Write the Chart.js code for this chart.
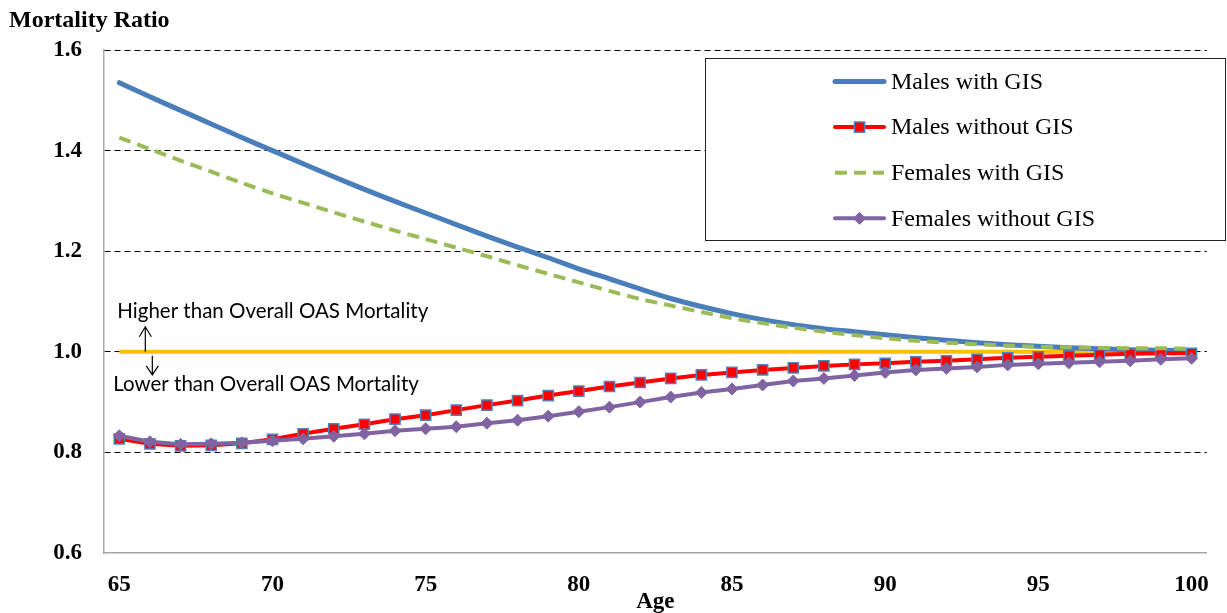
<!DOCTYPE html>
<html>
<head>
<meta charset="utf-8">
<title>Mortality Ratio</title>
<script src="https://cdn.jsdelivr.net/npm/chart.js"></script>
<style>
  body { margin: 0; background: #fff; }
  #wrap { width: 1227px; height: 613px; }
</style>
</head>
<body>
<div id="wrap"><canvas id="chart" width="1227" height="613"></canvas></div>
<script>
// ages on the x axis
const ages = [65, 66, 67, 68, 69, 70, 71, 72, 73, 74, 75, 76, 77, 78, 79, 80, 81, 82,
              83, 84, 85, 86, 87, 88, 89, 90, 91, 92, 93, 94, 95, 96, 97, 98, 99, 100];
const ageTickLabels = [65, 70, 75, 80, 85, 90, 95, 100];

// mortality ratios
const malesWithGIS = [1.535, 1.507, 1.480, 1.453, 1.426, 1.400, 1.374, 1.348, 1.323, 1.299,
                      1.276, 1.253, 1.230, 1.208, 1.187, 1.165, 1.145, 1.125, 1.106, 1.090,
                      1.076, 1.064, 1.054, 1.046, 1.040, 1.034, 1.028, 1.023, 1.018, 1.014,
                      1.011, 1.008, 1.006, 1.004, 1.003, 1.002];
const malesWithoutGIS = [0.827, 0.817, 0.813, 0.814, 0.818, 0.826, 0.837, 0.847, 0.856, 0.866,
                         0.874, 0.884, 0.894, 0.903, 0.913, 0.922, 0.931, 0.939, 0.947, 0.954,
                         0.959, 0.964, 0.968, 0.972, 0.975, 0.977, 0.980, 0.982, 0.985, 0.988,
                         0.990, 0.992, 0.994, 0.996, 0.997, 0.997];
const femalesWithGIS = [1.426, 1.403, 1.380, 1.358, 1.336, 1.315, 1.296, 1.277, 1.259, 1.241,
                        1.224, 1.207, 1.190, 1.172, 1.155, 1.138, 1.121, 1.105, 1.092, 1.079,
                        1.067, 1.057, 1.048, 1.040, 1.033, 1.027, 1.022, 1.018, 1.015, 1.012,
                        1.010, 1.009, 1.008, 1.007, 1.007, 1.006];
const femalesWithoutGIS = [0.833, 0.821, 0.816, 0.817, 0.819, 0.823, 0.827, 0.832, 0.837, 0.843,
                           0.847, 0.851, 0.858, 0.864, 0.872, 0.881, 0.890, 0.900, 0.910, 0.919,
                           0.926, 0.934, 0.942, 0.947, 0.953, 0.959, 0.964, 0.967, 0.970, 0.974,
                           0.976, 0.978, 0.980, 0.982, 0.985, 0.987];
const overallOAS = [1, 1, 1, 1, 1, 1, 1, 1, 1, 1, 1, 1, 1, 1, 1, 1, 1, 1,
                    1, 1, 1, 1, 1, 1, 1, 1, 1, 1, 1, 1, 1, 1, 1, 1, 1, 1];

const yMin = 0.6, yMax = 1.6, yStep = 0.2;

const serif = '"Liberation Serif", "Times New Roman", serif';
const tickFont = { family: serif, size: 23, weight: 'bold' };

// title top-left, arrows and notes around the 1.0 line
const notesPlugin = {
    id: 'notes',
    afterDraw(chart) {
        const ctx = chart.ctx;
        const x0 = chart.scales.x.getPixelForValue(0);
        const y1 = chart.scales.y.getPixelForValue(1.0);
        ctx.save();
        ctx.fillStyle = '#000';
        ctx.font = 'bold 24px ' + serif;
        ctx.textBaseline = 'alphabetic';
        ctx.fillText('Mortality Ratio', 9, 27);

        ctx.font = '20.5px Lato, "Open Sans", sans-serif';
        ctx.fillText('Higher than Overall OAS Mortality', x0 - 2, y1 - 34);
        ctx.fillText('Lower than Overall OAS Mortality', x0 - 6, y1 + 39);

        ctx.strokeStyle = '#000';
        ctx.lineWidth = 1.2;
        // up arrow
        let ax = x0 + 26;
        ctx.beginPath();
        ctx.moveTo(ax, y1);
        ctx.lineTo(ax, y1 - 25);
        ctx.moveTo(ax - 6, y1 - 15);
        ctx.lineTo(ax, y1 - 25);
        ctx.lineTo(ax + 6, y1 - 15);
        ctx.stroke();
        // down arrow
        ax = x0 + 33;
        ctx.beginPath();
        ctx.moveTo(ax, y1 + 4);
        ctx.lineTo(ax, y1 + 23);
        ctx.moveTo(ax - 6, y1 + 14);
        ctx.lineTo(ax, y1 + 23);
        ctx.lineTo(ax + 6, y1 + 14);
        ctx.stroke();
        ctx.restore();
    }
};

// boxed legend in the upper right, only the four named series
const boxLegendPlugin = {
    id: 'boxLegend',
    afterDraw(chart) {
        const ctx = chart.ctx;
        const box = { left: 705, top: 58, right: 1226, bottom: 241 };
        ctx.save();
        ctx.fillStyle = '#fff';
        ctx.fillRect(box.left, box.top, box.right - box.left, box.bottom - box.top);
        ctx.strokeStyle = '#222';
        ctx.lineWidth = 1;
        ctx.strokeRect(box.left + 0.5, box.top + 0.5, box.right - box.left - 1, box.bottom - box.top - 1);

        const items = chart.data.datasets.filter(ds => ds.inLegend);
        items.forEach((ds, i) => {
            const y = 81.5 + i * 45.6;
            ctx.save();
            ctx.strokeStyle = ds.borderColor;
            ctx.lineWidth = ds.borderWidth;
            ctx.lineCap = ds.borderDash ? 'butt' : 'round';
            ctx.setLineDash(ds.borderDash || []);
            ctx.beginPath();
            ctx.moveTo(835, y);
            ctx.lineTo(884, y);
            ctx.stroke();
            ctx.restore();
            if (ds.pointRadius > 0) {
                ctx.save();
                ctx.fillStyle = ds.pointBackgroundColor;
                ctx.strokeStyle = ds.pointBorderColor;
                ctx.lineWidth = ds.pointBorderWidth;
                Chart.helpers.drawPoint(ctx, {
                    pointStyle: ds.pointStyle, rotation: 0,
                    radius: ds.pointRadius, borderWidth: ds.pointBorderWidth
                }, 859.5, y);
                ctx.restore();
            }
            ctx.fillStyle = '#000';
            ctx.font = '24px ' + serif;
            ctx.textBaseline = 'middle';
            ctx.fillText(ds.label, 891, y + 1);
        });
        ctx.restore();
    }
};

new Chart(document.getElementById('chart'), {
    type: 'line',
    data: {
        labels: ages,
        datasets: [
            {
                label: 'Females without GIS',
                inLegend: true,
                data: femalesWithoutGIS,
                borderColor: '#8064A2',
                borderWidth: 4,
                pointStyle: 'rectRot',
                pointRadius: 6,
                pointBackgroundColor: '#8064A2',
                pointBorderColor: '#8064A2',
                pointBorderWidth: 1,
                tension: 0,
                order: 1
            },
            {
                label: 'Females with GIS',
                inLegend: true,
                data: femalesWithGIS,
                borderColor: '#9BBB59',
                borderWidth: 4,
                borderDash: [12, 7],
                pointRadius: 0,
                tension: 0.3,
                order: 2
            },
            {
                label: 'Males without GIS',
                inLegend: true,
                data: malesWithoutGIS,
                borderColor: '#FF0000',
                borderWidth: 4,
                pointStyle: 'rect',
                pointRadius: 7.2,
                pointBackgroundColor: '#FF0000',
                pointBorderColor: '#4F81BD',
                pointBorderWidth: 1.5,
                tension: 0,
                order: 3
            },
            {
                label: 'Males with GIS',
                inLegend: true,
                data: malesWithGIS,
                borderColor: '#4A7EBB',
                borderWidth: 5,
                borderCapStyle: 'round',
                pointRadius: 0,
                tension: 0.3,
                order: 4
            },
            {
                label: 'Overall OAS',
                inLegend: false,
                data: overallOAS,
                borderColor: '#FFC000',
                borderWidth: 4,
                pointRadius: 0,
                tension: 0,
                order: 5
            }
        ].sort((a, b) => b.order - a.order)
    },
    options: {
        responsive: false,
        animation: false,
        layout: { padding: { top: 50, right: 19, left: 0, bottom: 0 } },
        plugins: {
            legend: { display: false },
            tooltip: { enabled: false }
        },
        scales: {
            x: {
                type: 'category',
                offset: true,
                grid: { display: false, drawTicks: false },
                border: { display: true, color: '#A6A6A6', width: 1.5 },
                ticks: {
                    autoSkip: false,
                    maxRotation: 0,
                    padding: 18,
                    color: '#000',
                    font: tickFont,
                    callback: function (value, index) {
                        const age = ages[index];
                        return ageTickLabels.includes(age) ? String(age) : null;
                    }
                },
                title: {
                    display: true,
                    text: 'Age',
                    color: '#000',
                    font: tickFont,
                    padding: { top: 0, bottom: -3 }
                },
                afterFit: s => { s.height = 60; }
            },
            y: {
                min: yMin,
                max: yMax,
                grid: {
                    drawTicks: false,
                    lineWidth: 1,
                    color: c => (c.tick && c.tick.value <= yMin + 1e-6) ? 'rgba(0,0,0,0)' : '#000'
                },
                border: { display: true, color: '#A6A6A6', width: 1.5, dash: [6, 4] },
                ticks: {
                    stepSize: yStep,
                    padding: 22,
                    color: '#000',
                    font: tickFont,
                    callback: v => Number(v).toFixed(1)
                },
                afterFit: s => { s.width = 104; }
            }
        }
    },
    plugins: [notesPlugin, boxLegendPlugin]
});
</script>
</body>
</html>
